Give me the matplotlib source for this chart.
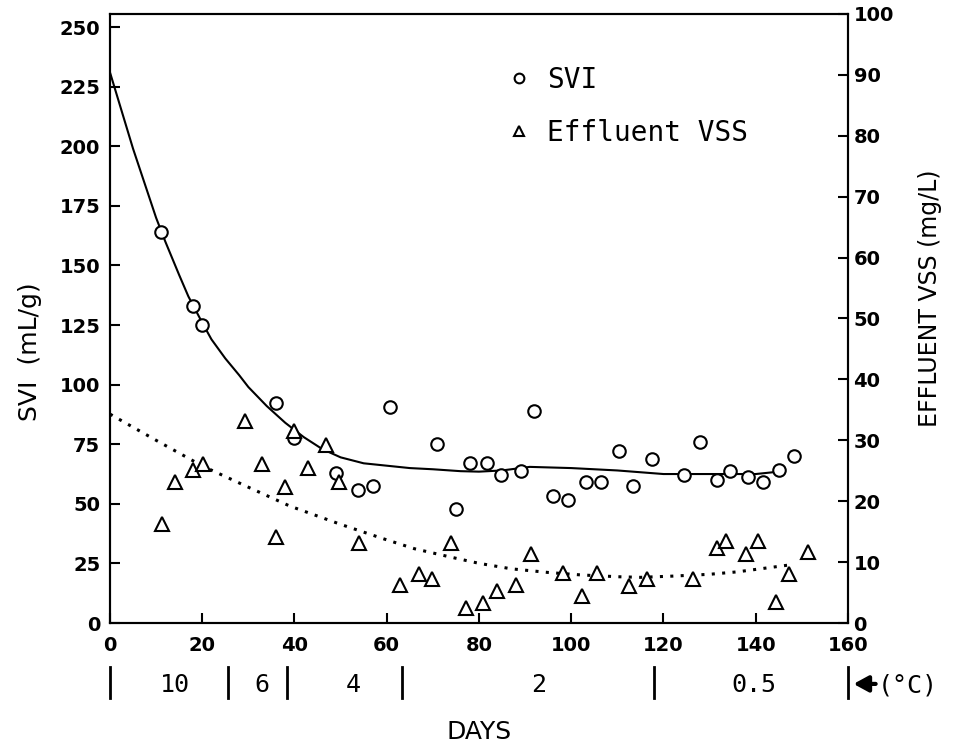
import matplotlib.pyplot as plt
from matplotlib.transforms import blended_transform_factory

plt.rcParams['font.family'] = ['DejaVu Sans']

# SVI measurements (mL/g)
svi_days = [11.1, 18.0, 20.0, 36.0, 40.0, 48.9, 53.7, 57.0, 60.8, 70.9, 75.1,
            78.0, 81.8, 84.8, 89.2, 91.9, 96.0, 99.3, 103.3, 106.5, 110.4,
            113.5, 117.6, 124.5, 127.9, 131.7, 134.5, 138.4, 141.5, 145.1, 148.2]
svi = [164, 133, 125, 92.5, 77.7, 62.8, 56, 57.4, 90.6, 75, 47.8,
       67.2, 67.2, 62, 63.7, 89, 53.3, 51.6, 59, 59, 72.3,
       57.5, 68.6, 62, 76, 60, 63.7, 61.4, 59.3, 64.1, 70]

# effluent VSS measurements (mg/L)
vss_days = [11.2, 14.2, 18.0, 20.1, 29.2, 32.9, 36.0, 37.9, 40.0, 43.0, 46.9,
            49.6, 54.0, 62.9, 66.9, 69.8, 74.0, 77.1, 80.9, 84.0, 88.1, 91.2,
            98.2, 102.3, 105.5, 112.5, 116.5, 126.4, 131.7, 133.5, 137.8,
            140.4, 144.4, 147.3, 151.3]
vss = [16.3, 23.1, 25.1, 26.1, 33.1, 26.1, 14.2, 22.3, 31.6, 25.4, 29.3,
       23.1, 13.2, 6.2, 8.0, 7.2, 13.2, 2.4, 3.3, 5.3, 6.2, 11.3,
       8.2, 4.5, 8.2, 6.1, 7.2, 7.2, 12.3, 13.4, 11.3,
       13.4, 3.4, 8.0, 11.6]

# hand-drawn trend curves
svi_fit_days = [0, 5, 10, 12, 15, 17, 20, 22, 25, 28, 30, 34, 38, 42, 46, 50,
                55, 60, 65, 70, 76, 80, 85, 91, 100, 110, 120, 130, 140, 145]
svi_fit = [231, 199, 170, 160, 146, 137, 126, 119, 111, 104, 99, 91, 84, 78,
           73, 69.5, 67, 66, 65, 64.5, 63.7, 63.5, 64, 65.5, 65, 64, 62.5,
           62.5, 62.5, 63.5]
vss_fit_days = [0, 10, 20, 30, 39, 50, 59, 66, 74, 80, 87, 95, 102, 110, 115,
                122, 130, 136, 143, 147]
vss_fit = [34.3, 30.0, 25.8, 22.3, 19.2, 16.2, 13.9, 12.2, 10.8, 9.8, 8.9,
           8.3, 7.9, 7.6, 7.5, 7.7, 8.0, 8.4, 9.1, 9.5]

# temperature periods under the axis
temp_bounds = [0, 25.6, 38.3, 63.4, 118, 160]
temp_mid = [14, 33, 52.7, 93, 139.5]
temp_labels = ['10', '6', '4', '2', '0.5']

fig = plt.figure(figsize=(9.69, 7.48), dpi=100)
ax = fig.add_axes([0.1135, 0.1671, 0.7616, 0.8142])
ax2 = ax.twinx()

ax.plot(svi_fit_days, svi_fit, color='black', lw=1.5, zorder=2)
ax.plot(svi_days, svi, 'o', ms=9, mfc='white', mec='black', mew=1.5, zorder=3)
ax2.plot(vss_fit_days, vss_fit, color='black', lw=2.2,
         linestyle=(0, (1, 2.4)), zorder=2)
ax2.plot(vss_days, vss, '^', ms=9.5, mfc='white', mec='black', mew=1.5, zorder=3)

ax.set_xlim(0, 160)
ax.set_ylim(0, 255.5)
ax2.set_ylim(0, 100)
ax.set_xticks(range(0, 161, 20))
ax.set_yticks(range(0, 251, 25))
ax2.set_yticks(range(0, 101, 10))

for a in (ax, ax2):
    for s in a.spines.values():
        s.set_linewidth(1.5)
ax.tick_params(axis='both', direction='in', length=7, width=1.5, labelsize=14)
ax.tick_params(axis='x', pad=9)
ax.tick_params(axis='y', pad=7)
ax2.tick_params(axis='y', direction='in', length=7, width=1.5, labelsize=14, pad=4)
for lab in ax.get_xticklabels() + ax.get_yticklabels() + ax2.get_yticklabels():
    lab.set_fontweight('bold')

fig.text(30 / 969, 1 - 352 / 748, 'SVI  (mL/g)', rotation=90, fontsize=18,
         ha='center', va='center')
fig.text(930 / 969, 1 - 298 / 748, 'EFFLUENT VSS (mg/L)', rotation=90,
         fontsize=17, ha='center', va='center')
fig.text(479 / 969, 1 - 732 / 748, 'DAYS', fontsize=18, ha='center', va='center')

# legend
leg = ax.legend(
    [plt.Line2D([], [], ls='', marker='o', ms=7, mfc='white', mec='black', mew=1.5),
     plt.Line2D([], [], ls='', marker='^', ms=7, mfc='white', mec='black', mew=1.5)],
    ['SVI', 'Effluent VSS'], loc='upper left', bbox_to_anchor=(505 / 969, 1 - 66 / 748),
    bbox_transform=fig.transFigure, frameon=False, handlelength=1.0,
    handletextpad=0.5, labelspacing=0.9, borderpad=0, borderaxespad=0,
    prop={'family': 'DejaVu Sans Mono', 'size': 20})

# temperature row
trans = blended_transform_factory(ax.transData, ax.transAxes)
for b in temp_bounds:
    ax.plot([b, b], [-0.072, -0.123], color='black', lw=2, transform=trans,
            clip_on=False)
for m, t in zip(temp_mid, temp_labels):
    ax.text(m, -0.102, t, transform=trans, ha='center', va='center',
            fontsize=18, family='DejaVu Sans Mono')
ax.annotate('', xy=(161.2, -0.100), xytext=(166.0, -0.100), xycoords=trans,
            textcoords=trans, annotation_clip=False,
            arrowprops=dict(arrowstyle='-|>,head_length=0.55,head_width=0.3',
                            color='black', lw=3, mutation_scale=16,
                            shrinkA=0, shrinkB=0))
ax.text(166.5, -0.102, '(°C)', transform=trans, ha='left', va='center',
        fontsize=18, family='DejaVu Sans Mono')

fig.savefig('out.png', dpi=100)
